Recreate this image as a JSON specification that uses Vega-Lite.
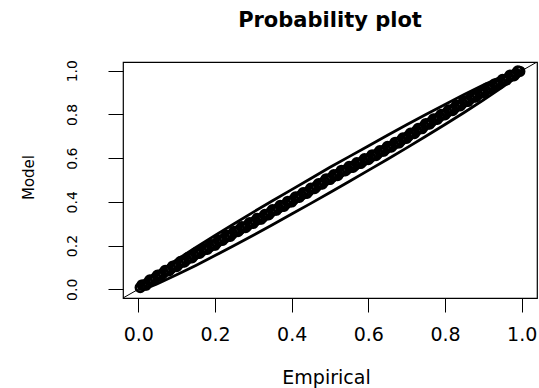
{
  "$schema": "https://vega.github.io/schema/vega-lite/v6.json",
  "width": 414,
  "height": 236,
  "autosize": {"type": "none"},
  "padding": {"left": 123, "top": 62, "right": 2, "bottom": 90},
  "background": "white",
  "title": {"text": "Probability plot", "font": "DejaVu Sans", "fontSize": 21, "fontWeight": "bold", "anchor": "middle", "frame": "group", "baseline": "alphabetic", "offset": 12, "color": "#000"},
  "config": {
    "view": {"stroke": "#000", "strokeWidth": 1.2},
    "axis": {"grid": false, "domain": false, "tickColor": "#000", "labelColor": "#000", "titleColor": "#000", "tickWidth": 1}
  },
  "datasets": {
    "diag": [{"e": -0.04, "m": -0.04}, {"e": 1.04, "m": 1.04}],
    "bands": [
      {"side": "upper", "e": 0, "m": 0}, {"side": "upper", "e": 0.01, "m": 0.021}, {"side": "upper", "e": 0.025, "m": 0.043}, {"side": "upper", "e": 0.05, "m": 0.075}, {"side": "upper", "e": 0.1, "m": 0.135}, {"side": "upper", "e": 0.15, "m": 0.191}, {"side": "upper", "e": 0.2, "m": 0.246}, {"side": "upper", "e": 0.25, "m": 0.3}, {"side": "upper", "e": 0.3, "m": 0.353}, {"side": "upper", "e": 0.35, "m": 0.405}, {"side": "upper", "e": 0.4, "m": 0.456}, {"side": "upper", "e": 0.45, "m": 0.507}, {"side": "upper", "e": 0.5, "m": 0.558}, {"side": "upper", "e": 0.55, "m": 0.607}, {"side": "upper", "e": 0.6, "m": 0.656}, {"side": "upper", "e": 0.65, "m": 0.705}, {"side": "upper", "e": 0.7, "m": 0.753}, {"side": "upper", "e": 0.75, "m": 0.8}, {"side": "upper", "e": 0.8, "m": 0.846}, {"side": "upper", "e": 0.85, "m": 0.891}, {"side": "upper", "e": 0.9, "m": 0.935}, {"side": "upper", "e": 0.95, "m": 0.975}, {"side": "upper", "e": 0.975, "m": 0.993}, {"side": "upper", "e": 0.99, "m": 1.0}, {"side": "upper", "e": 1, "m": 1.0},
      {"side": "lower", "e": 0, "m": 0}, {"side": "lower", "e": 0.01, "m": 0.0}, {"side": "lower", "e": 0.025, "m": 0.007}, {"side": "lower", "e": 0.05, "m": 0.025}, {"side": "lower", "e": 0.1, "m": 0.066}, {"side": "lower", "e": 0.15, "m": 0.109}, {"side": "lower", "e": 0.2, "m": 0.154}, {"side": "lower", "e": 0.25, "m": 0.2}, {"side": "lower", "e": 0.3, "m": 0.247}, {"side": "lower", "e": 0.35, "m": 0.295}, {"side": "lower", "e": 0.4, "m": 0.344}, {"side": "lower", "e": 0.45, "m": 0.393}, {"side": "lower", "e": 0.5, "m": 0.443}, {"side": "lower", "e": 0.55, "m": 0.493}, {"side": "lower", "e": 0.6, "m": 0.544}, {"side": "lower", "e": 0.65, "m": 0.595}, {"side": "lower", "e": 0.7, "m": 0.647}, {"side": "lower", "e": 0.75, "m": 0.7}, {"side": "lower", "e": 0.8, "m": 0.754}, {"side": "lower", "e": 0.85, "m": 0.809}, {"side": "lower", "e": 0.9, "m": 0.866}, {"side": "lower", "e": 0.95, "m": 0.925}, {"side": "lower", "e": 0.975, "m": 0.957}, {"side": "lower", "e": 0.99, "m": 0.979}, {"side": "lower", "e": 1, "m": 1.0}
    ],
    "pts": [
      {"e": 0.005, "m": 0.008}, {"e": 0.015, "m": 0.019}, {"e": 0.025, "m": 0.03}, {"e": 0.035, "m": 0.041}, {"e": 0.045, "m": 0.052},
      {"e": 0.055, "m": 0.064}, {"e": 0.065, "m": 0.074}, {"e": 0.075, "m": 0.085}, {"e": 0.085, "m": 0.094}, {"e": 0.095, "m": 0.104},
      {"e": 0.105, "m": 0.115}, {"e": 0.115, "m": 0.125}, {"e": 0.125, "m": 0.134}, {"e": 0.135, "m": 0.144}, {"e": 0.145, "m": 0.155},
      {"e": 0.155, "m": 0.165}, {"e": 0.165, "m": 0.174}, {"e": 0.175, "m": 0.183}, {"e": 0.185, "m": 0.192}, {"e": 0.195, "m": 0.202},
      {"e": 0.205, "m": 0.213}, {"e": 0.215, "m": 0.224}, {"e": 0.225, "m": 0.234}, {"e": 0.235, "m": 0.243}, {"e": 0.245, "m": 0.253},
      {"e": 0.255, "m": 0.264}, {"e": 0.265, "m": 0.274}, {"e": 0.275, "m": 0.283}, {"e": 0.285, "m": 0.292}, {"e": 0.295, "m": 0.302},
      {"e": 0.305, "m": 0.312}, {"e": 0.315, "m": 0.321}, {"e": 0.325, "m": 0.33}, {"e": 0.335, "m": 0.341}, {"e": 0.345, "m": 0.352},
      {"e": 0.355, "m": 0.362}, {"e": 0.365, "m": 0.371}, {"e": 0.375, "m": 0.38}, {"e": 0.385, "m": 0.39}, {"e": 0.395, "m": 0.4},
      {"e": 0.405, "m": 0.41}, {"e": 0.415, "m": 0.421}, {"e": 0.425, "m": 0.43}, {"e": 0.435, "m": 0.439}, {"e": 0.445, "m": 0.45},
      {"e": 0.455, "m": 0.461}, {"e": 0.465, "m": 0.471}, {"e": 0.475, "m": 0.482}, {"e": 0.485, "m": 0.493}, {"e": 0.495, "m": 0.503},
      {"e": 0.505, "m": 0.512}, {"e": 0.515, "m": 0.521}, {"e": 0.525, "m": 0.532}, {"e": 0.535, "m": 0.542}, {"e": 0.545, "m": 0.55},
      {"e": 0.555, "m": 0.558}, {"e": 0.565, "m": 0.567}, {"e": 0.575, "m": 0.576}, {"e": 0.585, "m": 0.585}, {"e": 0.595, "m": 0.594},
      {"e": 0.605, "m": 0.603}, {"e": 0.615, "m": 0.612}, {"e": 0.625, "m": 0.622}, {"e": 0.635, "m": 0.632}, {"e": 0.645, "m": 0.641},
      {"e": 0.655, "m": 0.651}, {"e": 0.665, "m": 0.66}, {"e": 0.675, "m": 0.67}, {"e": 0.685, "m": 0.68}, {"e": 0.695, "m": 0.691},
      {"e": 0.705, "m": 0.702}, {"e": 0.715, "m": 0.713}, {"e": 0.725, "m": 0.724}, {"e": 0.735, "m": 0.735}, {"e": 0.745, "m": 0.746},
      {"e": 0.755, "m": 0.756}, {"e": 0.765, "m": 0.767}, {"e": 0.775, "m": 0.778}, {"e": 0.785, "m": 0.788}, {"e": 0.795, "m": 0.799},
      {"e": 0.805, "m": 0.809}, {"e": 0.815, "m": 0.818}, {"e": 0.825, "m": 0.829}, {"e": 0.835, "m": 0.84}, {"e": 0.845, "m": 0.85},
      {"e": 0.855, "m": 0.86}, {"e": 0.865, "m": 0.87}, {"e": 0.875, "m": 0.88}, {"e": 0.885, "m": 0.889}, {"e": 0.895, "m": 0.899},
      {"e": 0.905, "m": 0.909}, {"e": 0.915, "m": 0.919}, {"e": 0.925, "m": 0.928}, {"e": 0.935, "m": 0.938}, {"e": 0.945, "m": 0.948},
      {"e": 0.955, "m": 0.958}, {"e": 0.965, "m": 0.968}, {"e": 0.975, "m": 0.977}, {"e": 0.985, "m": 0.987}, {"e": 0.995, "m": 0.997},
      {"e": 0.01, "m": 0.02}, {"e": 0.02, "m": 0.019}, {"e": 0.03, "m": 0.042}, {"e": 0.04, "m": 0.041}, {"e": 0.05, "m": 0.064},
      {"e": 0.06, "m": 0.064}, {"e": 0.07, "m": 0.086}, {"e": 0.08, "m": 0.085}, {"e": 0.09, "m": 0.106}, {"e": 0.1, "m": 0.104},
      {"e": 0.11, "m": 0.127}, {"e": 0.12, "m": 0.125}, {"e": 0.13, "m": 0.146}, {"e": 0.14, "m": 0.144}, {"e": 0.15, "m": 0.167},
      {"e": 0.16, "m": 0.165}, {"e": 0.17, "m": 0.186}, {"e": 0.18, "m": 0.183}, {"e": 0.19, "m": 0.204}, {"e": 0.2, "m": 0.202},
      {"e": 0.21, "m": 0.225}, {"e": 0.22, "m": 0.224}, {"e": 0.23, "m": 0.246}, {"e": 0.24, "m": 0.243}, {"e": 0.25, "m": 0.265},
      {"e": 0.26, "m": 0.264}, {"e": 0.27, "m": 0.286}, {"e": 0.28, "m": 0.283}, {"e": 0.29, "m": 0.304}, {"e": 0.3, "m": 0.302},
      {"e": 0.31, "m": 0.324}, {"e": 0.32, "m": 0.321}, {"e": 0.33, "m": 0.342}, {"e": 0.34, "m": 0.341}, {"e": 0.35, "m": 0.364},
      {"e": 0.36, "m": 0.362}, {"e": 0.37, "m": 0.383}, {"e": 0.38, "m": 0.38}, {"e": 0.39, "m": 0.402}, {"e": 0.4, "m": 0.4},
      {"e": 0.41, "m": 0.422}, {"e": 0.42, "m": 0.421}, {"e": 0.43, "m": 0.442}, {"e": 0.44, "m": 0.439}, {"e": 0.45, "m": 0.462},
      {"e": 0.46, "m": 0.461}, {"e": 0.47, "m": 0.483}, {"e": 0.48, "m": 0.482}, {"e": 0.49, "m": 0.505}, {"e": 0.5, "m": 0.503},
      {"e": 0.51, "m": 0.524}, {"e": 0.52, "m": 0.521}, {"e": 0.53, "m": 0.544}, {"e": 0.54, "m": 0.542}, {"e": 0.55, "m": 0.562},
      {"e": 0.56, "m": 0.558}, {"e": 0.57, "m": 0.579}, {"e": 0.58, "m": 0.576}, {"e": 0.59, "m": 0.597}, {"e": 0.6, "m": 0.594},
      {"e": 0.61, "m": 0.615}, {"e": 0.62, "m": 0.612}, {"e": 0.63, "m": 0.634}, {"e": 0.64, "m": 0.632}, {"e": 0.65, "m": 0.653},
      {"e": 0.66, "m": 0.651}, {"e": 0.67, "m": 0.672}, {"e": 0.68, "m": 0.67}, {"e": 0.69, "m": 0.692}, {"e": 0.7, "m": 0.691},
      {"e": 0.71, "m": 0.714}, {"e": 0.72, "m": 0.713}, {"e": 0.73, "m": 0.736}, {"e": 0.74, "m": 0.735}, {"e": 0.75, "m": 0.758},
      {"e": 0.76, "m": 0.756}, {"e": 0.77, "m": 0.779}, {"e": 0.78, "m": 0.778}, {"e": 0.79, "m": 0.8}, {"e": 0.8, "m": 0.799},
      {"e": 0.81, "m": 0.821}, {"e": 0.82, "m": 0.818}, {"e": 0.83, "m": 0.841}, {"e": 0.84, "m": 0.84}, {"e": 0.85, "m": 0.862},
      {"e": 0.86, "m": 0.86}, {"e": 0.87, "m": 0.882}, {"e": 0.88, "m": 0.88}, {"e": 0.89, "m": 0.901}, {"e": 0.9, "m": 0.899},
      {"e": 0.91, "m": 0.921}, {"e": 0.92, "m": 0.919}, {"e": 0.93, "m": 0.94}, {"e": 0.94, "m": 0.938}, {"e": 0.95, "m": 0.96},
      {"e": 0.96, "m": 0.958}, {"e": 0.97, "m": 0.98}, {"e": 0.98, "m": 0.977}, {"e": 0.99, "m": 0.999}
    ]
  },
  "encoding": {
    "x": {"field": "e", "type": "quantitative",
      "scale": {"domain": [-0.04, 1.04], "nice": false, "zero": false},
      "axis": {"values": [0, 0.2, 0.4, 0.6, 0.8, 1], "format": ".1f", "tickSize": 14, "labelPadding": 13, "labelFont": "DejaVu Sans", "labelFontSize": 19, "labelFlush": false, "labelOverlap": false, "title": "Empirical", "titleFont": "DejaVu Sans", "titleFontSize": 19, "titleFontWeight": "normal", "titleX": 203, "titleY": 85, "titleAlign": "center", "titleBaseline": "alphabetic"}},
    "y": {"field": "m", "type": "quantitative",
      "scale": {"domain": [-0.04, 1.04], "nice": false, "zero": false},
      "axis": {"values": [0, 0.2, 0.4, 0.6, 0.8, 1], "format": ".1f", "tickSize": 15, "labelAngle": 270, "labelAlign": "center", "labelBaseline": "alphabetic", "labelPadding": 32, "labelFont": "DejaVu Sans", "labelFontSize": 14, "labelFlush": false, "labelOverlap": false, "title": "Model", "titleFont": "DejaVu Sans", "titleFontSize": 15, "titleFontWeight": "normal", "titleAngle": 270, "titleX": -90, "titleY": 115, "titleAlign": "center", "titleBaseline": "alphabetic"}}
  },
  "layer": [
    {"data": {"name": "diag"}, "mark": {"type": "line", "color": "#000", "strokeWidth": 1, "clip": true}},
    {"data": {"name": "bands"}, "mark": {"type": "line", "color": "#000", "strokeWidth": 2.8}, "encoding": {"detail": {"field": "side", "type": "nominal"}}},
    {"data": {"name": "pts"}, "mark": {"type": "point", "shape": "circle", "filled": false, "color": "#000", "size": 78, "strokeWidth": 2.6, "opacity": 1}}
  ]
}
